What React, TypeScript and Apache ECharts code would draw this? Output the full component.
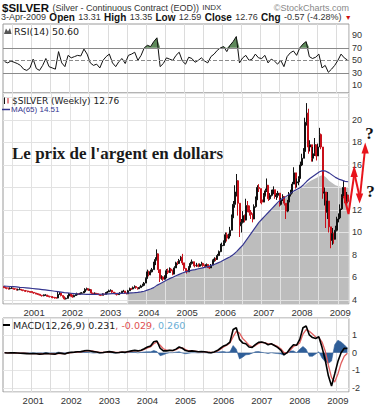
import React, { useEffect, useRef } from 'react';
import * as echarts from 'echarts';

// ---------- categories ----------
const START_YEAR = 2000;
const START_MONTH = 4;
const END_YEAR = 2009;
const END_MONTH = 4;

// ---------- weekly-ish price bars, two per month: [close, low, high] ----------
const firstOpen = 5.2;
const p2000 = [
  [5.15, 5.05, 5.25], [5.08, 5.0, 5.18], [5.05, 4.95, 5.12], [5.0, 4.92, 5.1], [5.05, 4.95, 5.12], [5.05, 4.98, 5.15],
  [5.0, 4.92, 5.08], [4.98, 4.9, 5.05], [4.9, 4.85, 5.0], [4.92, 4.85, 5.0], [4.95, 4.88, 5.05], [4.9, 4.82, 4.98],
  [4.85, 4.78, 4.92], [4.82, 4.74, 4.88], [4.8, 4.72, 4.86], [4.76, 4.68, 4.82], [4.74, 4.66, 4.8], [4.72, 4.64, 4.78],
];
const p2001 = [
  [4.68, 4.6, 4.78], [4.62, 4.55, 4.7], [4.58, 4.5, 4.65], [4.52, 4.45, 4.6], [4.5, 4.42, 4.58], [4.42, 4.35, 4.52],
  [4.38, 4.3, 4.45], [4.42, 4.33, 4.5], [4.45, 4.37, 4.52], [4.36, 4.3, 4.45], [4.32, 4.25, 4.4], [4.3, 4.22, 4.38],
  [4.25, 4.18, 4.32], [4.22, 4.15, 4.3], [4.2, 4.12, 4.28], [4.18, 4.12, 4.25], [4.5, 4.15, 4.72], [4.62, 4.45, 4.7],
  [4.4, 4.32, 4.55], [4.3, 4.22, 4.4], [4.1, 4.03, 4.22], [4.15, 4.05, 4.22], [4.35, 4.12, 4.42], [4.55, 4.38, 4.62],
];
const p2002 = [
  [4.45, 4.3, 4.6], [4.28, 4.2, 4.45], [4.4, 4.25, 4.48], [4.45, 4.35, 4.52], [4.55, 4.45, 4.65], [4.52, 4.45, 4.6],
  [4.6, 4.5, 4.68], [4.62, 4.55, 4.7], [4.72, 4.6, 4.8], [4.95, 4.7, 5.05], [5.0, 4.85, 5.1], [4.88, 4.8, 5.02],
  [4.92, 4.82, 5.0], [4.62, 4.55, 4.9], [4.55, 4.48, 4.65], [4.6, 4.52, 4.68], [4.55, 4.48, 4.62], [4.52, 4.45, 4.6],
  [4.45, 4.38, 4.52], [4.42, 4.35, 4.5], [4.52, 4.42, 4.6], [4.5, 4.42, 4.58], [4.6, 4.5, 4.7], [4.72, 4.6, 4.8],
];
const p2003 = [
  [4.82, 4.7, 4.92], [4.85, 4.75, 4.95], [4.7, 4.62, 4.85], [4.62, 4.55, 4.7], [4.55, 4.48, 4.65], [4.48, 4.4, 4.58],
  [4.55, 4.45, 4.62], [4.62, 4.52, 4.7], [4.75, 4.6, 4.82], [4.8, 4.7, 4.9], [4.62, 4.55, 4.75], [4.55, 4.5, 4.65],
  [4.82, 4.55, 4.9], [5.0, 4.8, 5.1], [4.98, 4.9, 5.08], [5.1, 4.95, 5.2], [5.2, 5.05, 5.3], [5.1, 5.0, 5.25],
  [5.0, 4.92, 5.12], [5.1, 4.98, 5.2], [5.25, 5.1, 5.35], [5.3, 5.18, 5.45], [5.5, 5.3, 5.6], [5.9, 5.5, 6.0],
];
const p2004 = [
  [6.5, 5.9, 6.7], [6.25, 6.1, 6.6], [6.5, 6.2, 6.7], [6.7, 6.45, 6.85], [7.2, 6.7, 7.4], [7.6, 7.1, 7.8],
  [8.1, 7.5, 8.5], [6.7, 6.4, 8.0], [5.9, 5.6, 6.4], [6.05, 5.8, 6.2], [5.85, 5.7, 6.1], [5.95, 5.8, 6.2],
  [6.6, 5.95, 6.75], [6.45, 6.3, 6.8], [6.75, 6.4, 6.9], [6.6, 6.5, 6.85], [6.3, 6.2, 6.7], [6.85, 6.3, 7.0],
  [7.3, 6.9, 7.4], [7.25, 7.1, 7.45], [7.5, 7.2, 7.65], [7.8, 7.5, 7.9], [7.3, 7.1, 8.1], [6.8, 6.6, 7.2],
];
const p2005 = [
  [6.65, 6.5, 6.85], [6.5, 6.35, 6.7], [6.9, 6.5, 7.0], [7.25, 6.9, 7.4], [7.4, 7.15, 7.6], [7.1, 7.0, 7.4],
  [7.05, 6.9, 7.2], [7.1, 6.95, 7.3], [7.0, 6.9, 7.25], [7.15, 6.95, 7.25], [7.25, 7.05, 7.4], [7.05, 6.95, 7.3],
  [7.0, 6.9, 7.15], [7.15, 6.95, 7.25], [7.0, 6.85, 7.2], [6.85, 6.75, 7.0], [7.1, 6.85, 7.2], [7.5, 7.1, 7.6],
  [7.65, 7.4, 7.8], [7.6, 7.45, 7.75], [7.95, 7.6, 8.1], [8.3, 7.9, 8.4], [8.8, 8.25, 9.0], [8.85, 8.5, 9.1],
];
const p2006 = [
  [9.1, 8.8, 9.3], [9.8, 9.1, 10.0], [9.5, 9.2, 10.0], [9.7, 9.4, 9.9], [10.2, 9.6, 10.5], [11.3, 10.2, 11.6],
  [12.5, 11.4, 12.8], [13.6, 12.2, 14.2], [14.6, 13.2, 15.2], [12.6, 11.5, 14.2], [10.6, 9.6, 12.3], [10.9, 10.0, 11.2],
  [11.5, 10.8, 11.9], [11.1, 10.9, 11.6], [12.4, 11.2, 13.0], [12.1, 11.8, 12.8], [11.8, 11.5, 12.4], [11.6, 11.2, 12.0],
  [11.2, 10.9, 11.7], [12.3, 11.2, 12.5], [12.9, 12.2, 13.2], [14.0, 12.9, 14.2], [13.9, 13.6, 14.3], [12.9, 12.6, 13.8],
];
const p2007 = [
  [12.7, 12.5, 13.1], [13.3, 12.7, 13.5], [13.7, 13.2, 13.9], [14.2, 13.6, 14.8], [13.0, 12.8, 14.0], [13.3, 12.9, 13.5],
  [13.6, 13.2, 13.8], [13.8, 13.4, 14.1], [13.2, 13.0, 13.8], [13.3, 12.9, 13.5], [13.5, 13.1, 13.7], [12.5, 12.3, 13.4],
  [12.9, 12.4, 13.1], [13.2, 12.8, 13.4], [12.6, 12.4, 13.2], [11.9, 11.2, 12.4], [12.7, 11.8, 12.9], [13.4, 12.6, 13.6],
  [13.5, 13.2, 13.8], [14.3, 13.5, 14.5], [15.3, 14.3, 15.8], [14.4, 13.9, 15.0], [14.5, 14.0, 14.8], [14.8, 14.2, 15.0],
];
const p2008 = [
  [16.0, 14.9, 16.3], [16.6, 15.9, 17.0], [17.2, 16.6, 17.5], [19.8, 17.3, 20.2], [20.6, 19.5, 21.5], [17.6, 17.0, 21.0],
  [17.8, 17.2, 18.2], [16.6, 16.3, 17.6], [17.0, 16.3, 17.6], [17.8, 16.8, 18.4], [16.8, 16.4, 17.6], [17.6, 16.9, 17.9],
  [18.7, 17.6, 19.3], [17.6, 17.4, 18.8], [13.5, 13.0, 16.9], [13.6, 12.4, 14.0], [11.8, 10.4, 12.6], [12.8, 11.2, 13.6],
  [10.5, 10.0, 12.4], [9.3, 8.6, 10.2], [9.9, 8.9, 10.4], [9.4, 9.0, 10.0], [10.2, 9.4, 10.6], [11.2, 10.1, 11.4],
];
const p2009 = [
  [11.3, 10.9, 11.7], [12.1, 11.2, 12.5], [13.1, 12.0, 13.4], [14.0, 13.2, 14.6], [12.9, 12.6, 14.0], [13.33, 12.5, 13.6],
  [12.76, 12.59, 13.35],
];

// ---------- monthly indicator readings (Apr 2000 .. Apr 2009) ----------
const ma65 = [
  5.24, 5.22, 5.2, 5.18, 5.16, 5.13, 5.11, 5.08, 5.05,
  5.02, 4.99, 4.96, 4.93, 4.9, 4.86, 4.82, 4.78, 4.74, 4.7, 4.66, 4.63,
  4.6, 4.57, 4.54, 4.52, 4.51, 4.5, 4.5, 4.5, 4.5, 4.51, 4.52, 4.53,
  4.55, 4.56, 4.57, 4.58, 4.59, 4.6, 4.61, 4.63, 4.65, 4.68, 4.72, 4.78,
  4.88, 4.98, 5.1, 5.3, 5.45, 5.6, 5.75, 5.9, 6.02, 6.15, 6.28, 6.4,
  6.5, 6.58, 6.65, 6.7, 6.78, 6.84, 6.9, 6.96, 7.05, 7.15, 7.28, 7.4,
  7.55, 7.7, 7.85, 8.05, 8.3, 8.6, 8.9, 9.3, 9.7, 10.1, 10.5, 10.9,
  11.2, 11.5, 11.8, 12.1, 12.4, 12.7, 12.95, 13.1, 13.3, 13.5, 13.7, 13.85,
  14.0, 14.25, 14.55, 14.8, 15.0, 15.2, 15.4, 15.5, 15.45, 15.3, 15.1, 14.9,
  14.75, 14.65, 14.55, 14.51,
];
// grey shading, starts Jul 2003
const SHADE_START_MONTH = 39;
const shade = [
  4.6, 4.62, 4.64, 4.67, 4.71, 4.76,
  4.85, 4.95, 5.07, 5.26, 5.42, 5.57, 5.72, 5.87, 6.0, 6.12, 6.25, 6.37,
  6.47, 6.55, 6.62, 6.68, 6.75, 6.82, 6.88, 6.94, 7.02, 7.12, 7.25, 7.37,
  7.5, 7.62, 7.8, 8.0, 8.25, 8.55, 8.85, 9.25, 9.65, 10.05, 10.45, 10.85,
  11.15, 11.45, 11.75, 12.05, 12.35, 12.6, 12.85, 13.0, 13.2, 13.4, 13.6, 13.75,
  13.9, 14.1, 14.35, 14.55, 14.7, 14.85, 15.0, 15.1, 14.9, 14.6, 14.4, 14.2,
  14.1, 14.05, 14.0, 14.0,
];
const rsi14 = [
  48, 46, 49, 47, 45, 42, 36, 34, 38,
  52, 37, 34, 42, 53, 40, 38, 36, 64, 46, 40, 58,
  54, 56, 58, 57, 68, 60, 46, 42, 44, 38, 50, 56,
  60, 46, 40, 48, 53, 45, 58, 60, 63, 50, 58, 70,
  74, 72, 80, 86, 40, 45, 54, 52, 50, 58, 63, 49,
  44, 55, 53, 47, 50, 54, 49, 46, 56, 60, 66, 70,
  72, 64, 74, 80, 88, 46, 54, 58, 50, 52, 60, 54,
  53, 58, 46, 52, 49, 44, 50, 40, 56, 62, 65, 58,
  70, 76, 80, 56, 53, 55, 60, 38, 42, 31, 36, 42,
  50, 60, 54, 50.6,
];
const macdLine = [
  0.0, -0.02, 0.0, -0.01, -0.02, -0.03, -0.04, -0.05, -0.06,
  -0.05, -0.06, -0.08, -0.07, -0.04, -0.06, -0.07, -0.08, -0.02, -0.04, -0.07, -0.01,
  0.02, 0.03, 0.05, 0.06, 0.1, 0.12, 0.1, 0.06, 0.04, 0.0, 0.01, 0.04,
  0.06, 0.03, 0.0, 0.01, 0.04, 0.02, 0.07, 0.1, 0.13, 0.1, 0.14, 0.22,
  0.32, 0.38, 0.62, 0.66, 0.25, 0.1, 0.1, 0.13, 0.12, 0.2, 0.32, 0.25,
  0.12, 0.08, 0.1, 0.08, 0.05, 0.06, 0.05, 0.02, 0.0, 0.04, 0.12, 0.25,
  0.38, 0.45, 0.6, 1.3, 1.4, 0.75, 0.55, 0.5, 0.32, 0.3, 0.45, 0.58,
  0.6, 0.55, 0.45, 0.5, 0.4, 0.3, 0.15, -0.12, 0.0, 0.25, 0.45, 0.42,
  0.75, 1.4, 1.5, 1.0, 0.85, 0.8, 0.9, 0.3, -0.4, -1.3, -1.87, -1.2,
  -0.5, 0.0, 0.25, 0.231,
];
const signalLine = [
  0.0, -0.01, -0.01, -0.01, -0.02, -0.02, -0.03, -0.04, -0.05,
  -0.05, -0.05, -0.06, -0.06, -0.05, -0.05, -0.06, -0.07, -0.05, -0.04, -0.05, -0.03,
  0.0, 0.02, 0.04, 0.05, 0.08, 0.1, 0.1, 0.08, 0.05, 0.02, 0.01, 0.03,
  0.05, 0.04, 0.02, 0.01, 0.03, 0.03, 0.05, 0.08, 0.11, 0.11, 0.12, 0.18,
  0.27, 0.33, 0.5, 0.6, 0.42, 0.22, 0.14, 0.13, 0.12, 0.17, 0.27, 0.27,
  0.18, 0.11, 0.1, 0.08, 0.06, 0.06, 0.05, 0.03, 0.01, 0.03, 0.09, 0.2,
  0.32, 0.42, 0.55, 0.9, 1.2, 1.1, 0.8, 0.62, 0.42, 0.33, 0.4, 0.52,
  0.58, 0.56, 0.5, 0.5, 0.43, 0.35, 0.22, 0.02, -0.02, 0.15, 0.35, 0.42,
  0.55, 1.05, 1.3, 1.2, 1.05, 0.88, 0.85, 0.6, 0.1, -0.7, -1.4, -1.65,
  -1.2, -0.6, -0.2, -0.029,
];

const SANS = '"Liberation Sans", Arial, sans-serif';
const VERD = '"DejaVu Sans", Verdana, sans-serif';
const SERIF = '"Liberation Serif", "Times New Roman", serif';

function buildCats() {
  const month: string[] = [];
  const semi: string[] = [];
  for (let y = START_YEAR; y <= END_YEAR; y++) {
    for (let m = 1; m <= 12; m++) {
      if (y === START_YEAR && m < START_MONTH) continue;
      if (y === END_YEAR && m > END_MONTH) continue;
      const key = `${y}-${String(m).padStart(2, '0')}`;
      month.push(key);
      semi.push(key + 'a');
      if (!(y === END_YEAR && m === END_MONTH)) semi.push(key + 'b');
    }
  }
  return { month, semi };
}

function buildOption() {
  const { month, semi } = buildCats();
  const bars = [...p2000, ...p2001, ...p2002, ...p2003, ...p2004, ...p2005, ...p2006, ...p2007, ...p2008, ...p2009];
  let prev = firstOpen;
  const candles = bars.map(([c, l, h]) => {
    const o = prev;
    prev = c;
    return [o, c, Math.min(l, o, c), Math.max(h, o, c)];
  });
  const maSemi = semi.map((_, i) => (i % 2 === 0 ? ma65[i / 2] : null));
  const shadeSemi = semi.map((_, i) => {
    if (i % 2 !== 0) return null;
    const m = i / 2 - SHADE_START_MONTH;
    return m >= 0 ? shade[m] : null;
  });
  const overbought = rsi14.map((v) => Math.max(v, 70));
  const hist = macdLine.map((v, i) => +(v - signalLine[i]).toFixed(3));

  const axisLabelStyle = { color: '#333', fontSize: 9, fontFamily: SANS };
  const vSplit = { show: true, lineStyle: { color: '#dcdcdc', width: 1 } };
  const isInt = (v: number) => Math.abs(v - Math.round(v)) < 1e-6;

  const txt = (x: number, y: number, style: any, extra: any = {}) => ({
    type: 'text', x, y, z: 50, silent: true,
    style: { textVerticalAlign: 'middle', verticalAlign: 'middle', ...style }, ...extra,
  });

  return {
    animation: false,
    backgroundColor: '#fff',
    grid: [
      { left: 3, top: 24, width: 346, height: 69, show: true, borderColor: '#9a9a9a', borderWidth: 1, backgroundColor: '#fff' },
      { left: 3, top: 93, width: 346, height: 211, show: true, borderColor: '#9a9a9a', borderWidth: 1, backgroundColor: '#fff' },
      { left: 3, top: 318, width: 346, height: 74, show: true, borderColor: '#9a9a9a', borderWidth: 1, backgroundColor: '#fff' },
    ],
    xAxis: [
      {
        gridIndex: 0, type: 'category', data: month, boundaryGap: true,
        axisLine: { show: false }, axisTick: { show: false }, axisLabel: { show: false },
        splitLine: { ...vSplit, interval: (i: number) => i % 6 === 3 },
      },
      {
        gridIndex: 1, type: 'category', data: semi, boundaryGap: true, z: 2,
        axisLine: { show: false }, axisTick: { show: false },
        axisLabel: { ...axisLabelStyle, fontSize: 9.5, margin: 3, interval: (i: number) => i % 24 === 19, formatter: (v: string) => v.slice(0, 4) },
        splitLine: { show: true, lineStyle: { color: '#e2e2e2', width: 1 }, interval: (i: number) => i % 12 === 6 },
      },
      {
        gridIndex: 2, type: 'category', data: month, boundaryGap: true,
        axisLine: { show: false }, axisTick: { show: false },
        axisLabel: { ...axisLabelStyle, fontSize: 9.5, margin: 3, interval: (i: number) => i % 12 === 9, formatter: (v: string) => v.slice(0, 4) },
        splitLine: { ...vSplit, interval: (i: number) => i % 6 === 3 },
      },
    ],
    yAxis: [
      {
        gridIndex: 0, type: 'value', position: 'right', min: -2, max: 108, splitNumber: 11,
        axisLine: { show: false }, axisTick: { show: false }, splitLine: { show: false },
        axisLabel: {
          ...axisLabelStyle, margin: 3,
          formatter: (v: number) => (isInt(v) && [10, 30, 50, 70, 90].includes(Math.round(v)) ? String(Math.round(v)) : ''),
        },
      },
      {
        gridIndex: 1, type: 'value', position: 'right', min: 3.644, max: 22.4, splitNumber: 9, z: 2,
        axisLine: { show: false }, axisTick: { show: false },
        splitLine: { show: true, lineStyle: { color: '#e2e2e2', width: 1 } },
        axisLabel: {
          ...axisLabelStyle, margin: 3,
          formatter: (v: number) => {
            const r = Math.round(v);
            return isInt(v) && r % 2 === 0 && r >= 4 && r <= 20 && r !== 14 ? String(r) : '';
          },
        },
      },
      {
        gridIndex: 2, type: 'value', position: 'right', min: -2.21, max: 1.95, splitNumber: 4,
        axisLine: { show: false }, axisTick: { show: false },
        splitLine: { show: true, lineStyle: { color: '#e6e6e6', width: 1 } },
        axisLabel: { ...axisLabelStyle, margin: 3, formatter: (v: number) => (isInt(v) ? String(Math.round(v)) : '') },
      },
    ],
    series: [
      {
        name: 'RSI overbought', type: 'line', xAxisIndex: 0, yAxisIndex: 0, data: overbought, z: 2,
        symbol: 'none', lineStyle: { width: 0, opacity: 0 }, areaStyle: { origin: 70, color: '#5d8a5a', opacity: 1 }, silent: true,
      },
      {
        name: 'RSI(14)', type: 'line', xAxisIndex: 0, yAxisIndex: 0, data: rsi14, z: 3,
        symbol: 'none', lineStyle: { color: '#111', width: 1 },
        markLine: {
          silent: true, symbol: ['none', 'none'], label: { show: false },
          data: [
            { yAxis: 70, lineStyle: { color: '#8a8a8a', width: 1, type: 'solid' } },
            { yAxis: 30, lineStyle: { color: '#8a8a8a', width: 1, type: 'solid' } },
            { yAxis: 50, lineStyle: { color: '#8a8a8a', width: 1, type: 'dashed' } },
          ],
        },
      },
      {
        name: 'shade', type: 'line', xAxisIndex: 1, yAxisIndex: 1, data: shadeSemi, connectNulls: true, z: 1,
        symbol: 'none', lineStyle: { width: 0, opacity: 0 }, areaStyle: { origin: 'start', color: '#bdbdbd', opacity: 1 }, silent: true,
      },
      {
        name: '$SILVER', type: 'candlestick', xAxisIndex: 1, yAxisIndex: 1, data: candles, z: 3, clip: false,
        barWidth: 1.5,
        itemStyle: { color: '#111', color0: '#c8101a', borderColor: '#111', borderColor0: '#c8101a', borderWidth: 1 },
      },
      {
        name: 'MA(65)', type: 'line', xAxisIndex: 1, yAxisIndex: 1, data: maSemi, connectNulls: true, z: 4,
        symbol: 'none', lineStyle: { color: '#34358f', width: 1.2 },
      },
      {
        name: 'Histogram', type: 'line', xAxisIndex: 2, yAxisIndex: 2, data: hist, z: 2,
        symbol: 'none', lineStyle: { color: '#2f5e98', width: 0.6 }, areaStyle: { origin: 0, color: '#2f5e98', opacity: 1 },
      },
      {
        name: 'Signal', type: 'line', xAxisIndex: 2, yAxisIndex: 2, data: signalLine, z: 3,
        symbol: 'none', lineStyle: { color: '#e06060', width: 1.3 },
      },
      {
        name: 'MACD', type: 'line', xAxisIndex: 2, yAxisIndex: 2, data: macdLine, z: 4,
        symbol: 'none', lineStyle: { color: '#000', width: 1.6 },
      },
    ],
    graphic: [
      // header line 1
      txt(2, 7.5, {
        text: '{a|$SILVER} {b|(Silver - Continuous Contract (EOD))} {c|INDX}',
        rich: {
          a: { fontSize: 11.5, fontWeight: 'bold', fontFamily: SANS, fill: '#111', color: '#111' },
          b: { fontSize: 9, fontFamily: SANS, fill: '#333', color: '#333' },
          c: { fontSize: 8, fontFamily: SANS, fill: '#333', color: '#333' },
        },
      }),
      txt(349, 7.5, { text: '©StockCharts.com', fontSize: 9, fontFamily: SANS, fill: '#888', textAlign: 'right', align: 'right' }),
      // header line 2
      txt(1, 17, {
        text: '{n|3-Apr-2009} {b|Open} {n|13.31} {b|High} {n|13.35} {b|Low} {n|12.59} {b|Close} {n|12.76} {b|Chg} {n|-0.57 (-4.28%)} {r|▼}',
        rich: {
          n: { fontSize: 9, fontFamily: SANS, fill: '#333', color: '#333' },
          b: { fontSize: 10, fontWeight: 'bold', fontFamily: SANS, fill: '#111', color: '#111' },
          r: { fontSize: 7, fontFamily: SANS, fill: '#d01010', color: '#d01010' },
        },
      }),
      // RSI legend
      { type: 'polygon', z: 50, silent: true, shape: { points: [[4, 34], [6, 28.5], [8, 31.5], [10, 28], [11.5, 34]] }, style: { fill: '#555' } },
      txt(14, 31, { text: 'RSI(14) 50.60', fontSize: 9.5, fontFamily: VERD, fill: '#222' }),
      // price legend
      { type: 'line', z: 50, silent: true, shape: { x1: 4.5, y1: 97.5, x2: 4.5, y2: 104 }, style: { stroke: '#111', lineWidth: 1 } },
      { type: 'line', z: 50, silent: true, shape: { x1: 8, y1: 98, x2: 8, y2: 103.5 }, style: { stroke: '#c8101a', lineWidth: 1 } },
      txt(12, 100.8, { text: '$SILVER (Weekly) 12.76', fontSize: 9, fontFamily: VERD, fill: '#222' }),
      { type: 'line', z: 50, silent: true, shape: { x1: 2, y1: 109.5, x2: 10, y2: 109.5 }, style: { stroke: '#34358f', lineWidth: 1.5 } },
      txt(11, 109.5, { text: 'MA(65) 14.51', fontSize: 8, fontFamily: SANS, fill: '#34358f' }),
      // MACD legend
      { type: 'line', z: 50, silent: true, shape: { x1: 3, y1: 325, x2: 10, y2: 325 }, style: { stroke: '#000', lineWidth: 2 } },
      txt(13, 325, {
        text: '{k|MACD(12,26,9) 0.231}{r|, -0.029}{c|, 0.260}',
        rich: {
          k: { fontSize: 9.5, fontFamily: VERD, fill: '#222', color: '#222' },
          r: { fontSize: 9.5, fontFamily: VERD, fill: '#e05050', color: '#e05050' },
          c: { fontSize: 9.5, fontFamily: VERD, fill: '#6aaed6', color: '#6aaed6' },
        },
      }),
      // annotations
      txt(12, 153.5, { text: "Le prix de l'argent en dollars", fontSize: 17, fontWeight: 'bold', fontFamily: SERIF, fill: '#1a1a1a' }),
      txt(369.5, 133.5, { text: '?', fontSize: 17, fontWeight: 'bold', fontFamily: SERIF, fill: '#111', textAlign: 'center', align: 'center' }),
      txt(370.5, 191.5, { text: '?', fontSize: 17, fontWeight: 'bold', fontFamily: SERIF, fill: '#111', textAlign: 'center', align: 'center' }),
      { type: 'polyline', z: 60, silent: true, shape: { points: [[344, 196], [348.5, 214], [354, 176]] }, style: { stroke: '#e8141c', lineWidth: 2, fill: null } },
      { type: 'polygon', z: 60, silent: true, shape: { points: [[354.2, 165.5], [350.5, 177], [357.8, 177]] }, style: { fill: '#e8141c' } },
      { type: 'polyline', z: 60, silent: true, shape: { points: [[354.5, 174], [359, 194]] }, style: { stroke: '#e8141c', lineWidth: 2, fill: null } },
      { type: 'polygon', z: 60, silent: true, shape: { points: [[359.6, 203.5], [355.8, 193.5], [363.2, 193.5]] }, style: { fill: '#e8141c' } },
      { type: 'polyline', z: 60, silent: true, shape: { points: [[359.6, 200], [364.6, 153]] }, style: { stroke: '#e8141c', lineWidth: 2, fill: null } },
      { type: 'polygon', z: 60, silent: true, shape: { points: [[365.2, 142.5], [361.5, 153.5], [368.8, 153.5]] }, style: { fill: '#e8141c' } },
    ],
  };
}

export default function App() {
  const ref = useRef<HTMLDivElement>(null);
  useEffect(() => {
    if (!ref.current) return;
    const chart = echarts.init(ref.current, null, { renderer: 'svg' });
    chart.setOption(buildOption() as any);
    return () => chart.dispose();
  }, []);
  return (
    <div
      ref={ref}
      style={{ position: 'absolute', left: 0, top: 0, width: 383, height: 407, background: '#fff' }}
    />
  );
}
